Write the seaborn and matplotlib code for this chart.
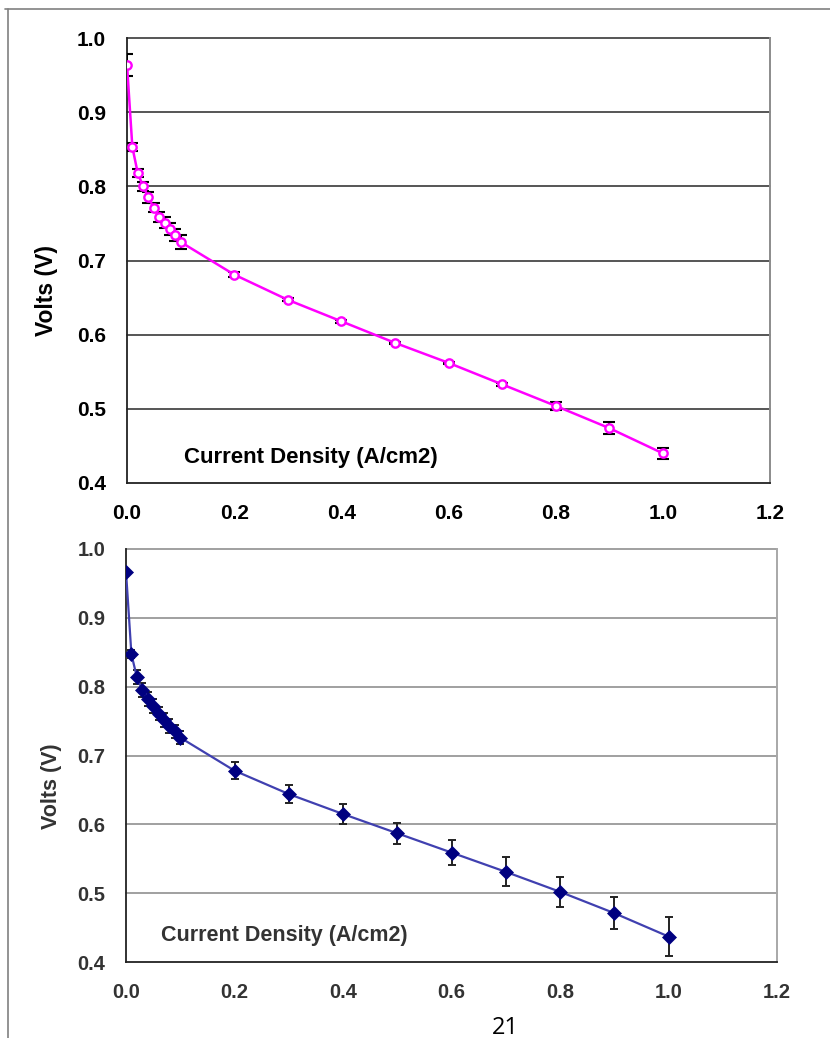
import numpy as np
import pandas as pd
import matplotlib
matplotlib.use("Agg")
import matplotlib.pyplot as plt
from matplotlib.ticker import MultipleLocator, FormatStrFormatter
from matplotlib.lines import Line2D
import seaborn as sns

sns.set_style("white")
plt.rcParams['font.family'] = ['Liberation Sans', 'DejaVu Sans']

# ---------------- data ----------------
current_density = [0.0, 0.01, 0.02, 0.03, 0.04, 0.05, 0.06, 0.07, 0.08, 0.09, 0.10,
                   0.2, 0.3, 0.4, 0.5, 0.6, 0.7, 0.8, 0.9, 1.0]

volts_top = [0.964, 0.853, 0.818, 0.800, 0.785, 0.771, 0.759, 0.751, 0.742, 0.734, 0.725,
             0.681, 0.647, 0.618, 0.589, 0.562, 0.533, 0.504, 0.474, 0.440]
err_top = [0.015, 0.006, 0.006, 0.006, 0.007, 0.006, 0.007, 0.007, 0.008, 0.008, 0.010,
           0.003, 0.002, 0.002, 0.001, 0.001, 0.002, 0.005, 0.008, 0.007]

volts_bottom = [0.967, 0.847, 0.814, 0.795, 0.782, 0.772, 0.761, 0.752, 0.743, 0.735, 0.726,
                0.678, 0.644, 0.615, 0.587, 0.559, 0.531, 0.502, 0.471, 0.437]
err_bottom = [0.003, 0.006, 0.010, 0.010, 0.010, 0.010, 0.010, 0.010, 0.010, 0.010, 0.010,
              0.012, 0.013, 0.014, 0.015, 0.018, 0.021, 0.022, 0.023, 0.028]

x_ticks = [0.0, 0.2, 0.4, 0.6, 0.8, 1.0, 1.2]
y_ticks = [0.4, 0.5, 0.6, 0.7, 0.8, 0.9, 1.0]
x_label = "Current Density (A/cm2)"
y_label = "Volts (V)"
page_number = "21"

W, H = 830, 1038
fig = plt.figure(figsize=(W / 100, H / 100), dpi=100)
fig.patch.set_facecolor("white")


def px_axes(x0, x1, y0, y1):
    return fig.add_axes([x0 / W, 1 - y1 / H, (x1 - x0) / W, (y1 - y0) / H])


def style_axes(ax, grid_col, frame_col, text_col, fs, xpad, ypad,
               lab_fs, lab_pos, note_fs, note_pos):
    ax.set_xlim(0, 1.2)
    ax.set_ylim(0.4, 1.0)
    ax.set_xticks(x_ticks)
    ax.set_yticks(y_ticks)
    ax.xaxis.set_major_formatter(FormatStrFormatter('%.1f'))
    ax.yaxis.set_major_formatter(FormatStrFormatter('%.1f'))
    ax.xaxis.set_minor_locator(MultipleLocator(0.05))
    ax.yaxis.set_minor_locator(MultipleLocator(0.02))
    for yv in y_ticks[1:]:
        ax.axhline(yv, color=grid_col, lw=1.4, zorder=1, clip_on=False)
    ax.spines["top"].set_visible(False)
    ax.spines["right"].set_color(frame_col)
    ax.spines["right"].set_linewidth(1.4)
    for s in ["left", "bottom"]:
        ax.spines[s].set_color("#222222")
        ax.spines[s].set_linewidth(1.3)
    ax.tick_params(axis="x", which="major", direction="inout", length=12, width=1.1,
                   color="#222222", labelsize=fs, pad=xpad, labelcolor=text_col)
    ax.tick_params(axis="x", which="minor", direction="in", length=5, width=1.0, color="#222222")
    ax.tick_params(axis="y", which="major", direction="out", length=8, width=1.1,
                   color="#222222", labelsize=fs, pad=ypad, labelcolor=text_col)
    ax.tick_params(axis="y", which="minor", direction="in", length=3, width=1.0, color="#222222")
    for lab in ax.get_xticklabels() + ax.get_yticklabels():
        lab.set_fontweight("bold")
    ax.set_xlabel("")
    ax.set_ylabel(y_label, fontsize=lab_fs, fontweight="bold", color=text_col)
    ax.yaxis.set_label_coords(*lab_pos)
    ax.yaxis.label.set_va("center")
    ax.text(note_pos[0], note_pos[1], x_label, transform=ax.transAxes, fontsize=note_fs,
            fontweight="bold", color=text_col, ha="right", va="center")


# ---------------- top chart ----------------
df_top = pd.DataFrame({"x": current_density, "v": volts_top, "e": err_top})
ax1 = px_axes(127, 770, 38, 483)
ax1.errorbar(df_top["x"], df_top["v"], yerr=df_top["e"], fmt="none", ecolor="black",
             elinewidth=1.4, capsize=4.5, capthick=1.5, zorder=3)
sns.lineplot(data=df_top, x="x", y="v", ax=ax1, color="#ff00ff", lw=1.8, zorder=4,
             marker="o", markersize=6, markerfacecolor="white",
             markeredgecolor="#ff00ff", markeredgewidth=1.7, estimator=None, sort=False)
style_axes(ax1, "#555555", "#8c8c8c", "black", 15, 9, 7,
           16.5, ((46 - 127) / 643, (483 - 290) / 445),
           16, ((438 - 127) / 643, (483 - 457) / 445))

# ---------------- bottom chart ----------------
df_bot = pd.DataFrame({"x": current_density, "v": volts_bottom, "e": err_bottom})
ax2 = px_axes(126, 777, 549, 962)
ax2.errorbar(df_bot["x"], df_bot["v"], yerr=df_bot["e"], fmt="none", ecolor="#222222",
             elinewidth=1.4, capsize=3.2, capthick=1.4, zorder=3)
sns.lineplot(data=df_bot, x="x", y="v", ax=ax2, color="#4040b0", lw=1.6, zorder=4,
             marker="D", markersize=7, markerfacecolor="#000080",
             markeredgecolor="#000080", markeredgewidth=0.5, estimator=None, sort=False)
style_axes(ax2, "#a0a0a0", "#a8a8a8", "#333333", 14.5, 9, 7,
           15.5, ((52 - 126) / 651, (962 - 786) / 413),
           15.5, ((408 - 126) / 651, (962 - 935) / 413))

# ---------------- page frame and number ----------------
fig.add_artist(Line2D([5 / W, 1.0], [1 - 9 / H, 1 - 9 / H], transform=fig.transFigure,
                      color="#808080", lw=1.2))
fig.add_artist(Line2D([8 / W, 8 / W], [0, 1 - 9 / H], transform=fig.transFigure,
                      color="#808080", lw=1.2))
fig.text(505 / W, 1 - 1028 / H, page_number, fontsize=17, ha="center", va="center",
         color="black", family=["Open Sans", "DejaVu Sans"])

fig.savefig("out.png", dpi=100, facecolor="white")
